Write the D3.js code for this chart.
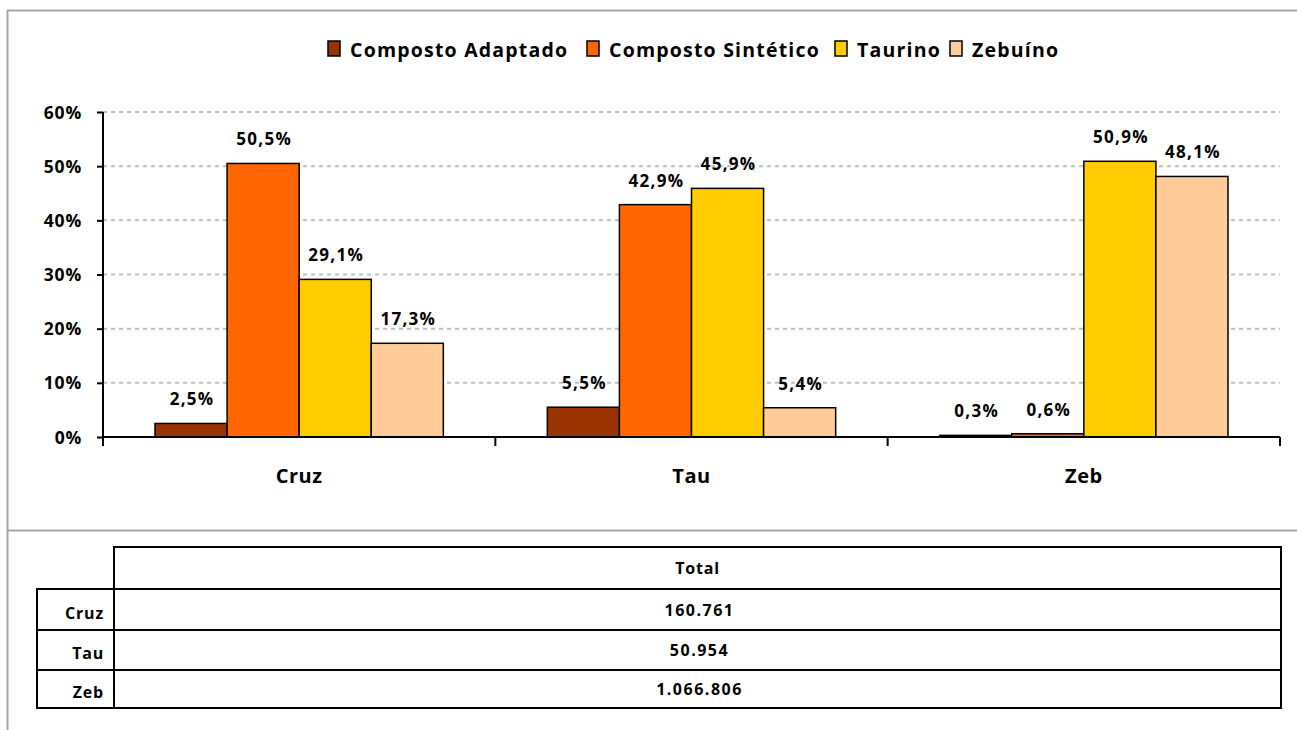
<!DOCTYPE html>
<html>
<head>
<meta charset="utf-8">
<script src="https://cdn.jsdelivr.net/npm/d3@7"></script>
<style>
  body { margin: 0; background: #fff; }
  text { font-family: "Open Sans", Lato, sans-serif; font-weight: bold; fill: #000; }
</style>
</head>
<body>
<div id="vis"></div>
<script>
var w = 1297,
    h = 730;

var categories = ["Cruz", "Tau", "Zeb"];
var series = ["Composto Adaptado", "Composto Sintético", "Taurino", "Zebuíno"];
var colors = ["#993300", "#FF6600", "#FFCC00", "#FFCC99"];
// percent values, one array per series (Cruz, Tau, Zeb)
var compostoAdaptado = [2.5, 5.5, 0.3];
var compostoSintetico = [50.5, 42.9, 0.6];
var taurino = [29.1, 45.9, 50.9];
var zebuino = [17.3, 5.4, 48.1];
var yTicks = [0, 10, 20, 30, 40, 50, 60];
var totals = ["160.761", "50.954", "1.066.806"];

var values = [compostoAdaptado, compostoSintetico, taurino, zebuino];

var svg = d3.select("#vis").append("svg")
    .attr("width", w)
    .attr("height", h);

// chart frame (grey)
svg.append("path")
    .attr("d", "M 7.5 730 L 7.5 10.5 L 1297 10.5 M 7.5 530.5 L 1297 530.5")
    .style("fill", "none")
    .style("stroke", "#a6a6a6")
    .style("stroke-width", 2);

var pLeft = 103, pRight = 1280, pTop = 112, pBottom = 437;

var x0 = d3.scaleBand().domain(categories).range([pLeft, pRight]);
var x1 = d3.scaleBand().domain(d3.range(series.length)).range([52, x0.bandwidth() - 52]);
var y = d3.scaleLinear().domain([0, 60]).range([pBottom, pTop]);

// gridlines
svg.append("g").selectAll("line.grid")
    .data(yTicks.slice(1))
    .enter().append("line")
    .attr("class", "grid")
    .attr("x1", pLeft).attr("x2", pRight)
    .attr("y1", function(d){ return y(d); })
    .attr("y2", function(d){ return y(d); })
    .style("stroke", "#bfbfbf")
    .style("stroke-width", 2)
    .style("stroke-dasharray", "4,4");

// bars
var groups = svg.append("g").selectAll("g.cat")
    .data(categories)
    .enter().append("g")
    .attr("transform", function(d){ return "translate(" + x0(d) + ",0)"; });

var cellData = function(d, ci){ return values.map(function(v, si){ return {s: si, v: v[ci]}; }); };

groups.selectAll("rect")
    .data(cellData)
    .enter().append("rect")
    .attr("x", function(d){ return x1(d.s); })
    .attr("width", x1.bandwidth())
    .attr("y", function(d){ return y(d.v); })
    .attr("height", function(d){ return pBottom - y(d.v); })
    .style("fill", function(d){ return colors[d.s]; })
    .style("stroke", "#000")
    .style("stroke-width", 1.5);

groups.selectAll("text.lbl")
    .data(cellData)
    .enter().append("text")
    .attr("class", "lbl")
    .attr("x", function(d){ return x1(d.s) + x1.bandwidth() / 2 + 1; })
    .attr("y", function(d){ return y(d.v) - 18; })
    .attr("text-anchor", "middle")
    .style("font-size", "17px")
    .style("letter-spacing", "1.3px")
    .text(function(d){ return d.v.toFixed(1).replace(".", ",") + "%"; });

// y axis
var yAxis = d3.axisLeft(y).tickValues(yTicks).tickSize(6).tickPadding(15)
    .tickFormat(function(d){ return d + "%"; });
var ya = svg.append("g").attr("transform", "translate(" + pLeft + ",0)").call(yAxis);
ya.select(".domain").remove();
ya.selectAll("line").style("stroke", "#000").style("stroke-width", 2);
ya.selectAll("text").style("font-size", "17.5px").style("letter-spacing", "0.8px").attr("dy", "0.35em");
svg.append("line")
    .attr("x1", pLeft).attr("x2", pLeft).attr("y1", pTop).attr("y2", pBottom + 9)
    .style("stroke", "#000").style("stroke-width", 2);

// x axis
svg.append("line")
    .attr("x1", pLeft).attr("x2", pRight).attr("y1", pBottom).attr("y2", pBottom)
    .style("stroke", "#000").style("stroke-width", 2);
svg.append("g").selectAll("line.xt")
    .data(categories.map(function(d){ return x0(d); }).concat([pRight]))
    .enter().append("line")
    .attr("x1", function(d){ return d; }).attr("x2", function(d){ return d; })
    .attr("y1", pBottom).attr("y2", pBottom + 9)
    .style("stroke", "#000").style("stroke-width", 2);
svg.append("g").selectAll("text.cat")
    .data(categories)
    .enter().append("text")
    .attr("x", function(d){ return x0(d) + x0.bandwidth() / 2; })
    .attr("y", 483)
    .attr("text-anchor", "middle")
    .style("font-size", "20px")
    .style("letter-spacing", "0.5px")
    .text(function(d){ return d; });

// legend
var legendX = [328, 587, 835, 950];
var leg = svg.append("g").selectAll("g.leg")
    .data(series)
    .enter().append("g")
    .attr("transform", function(d, i){ return "translate(" + legendX[i] + ",41)"; });
leg.append("rect")
    .attr("width", 12).attr("height", 15)
    .style("fill", function(d, i){ return colors[i]; })
    .style("stroke", "#000").style("stroke-width", 1.5);
leg.append("text")
    .attr("x", 22).attr("y", 15.5)
    .style("font-size", "19.5px")
    .style("letter-spacing", "1.2px")
    .text(function(d){ return d; });

// data table
var tLeft = 37, tCol = 114, tRight = 1281;
var rowsY = [547, 589, 630, 670, 708];
var tbl = svg.append("g");
var tStyle = function(s){ return s.style("stroke", "#000").style("stroke-width", 2).style("fill", "none"); };
tStyle(tbl.append("rect").attr("x", tCol).attr("y", rowsY[0]).attr("width", tRight - tCol).attr("height", rowsY[1] - rowsY[0]));
tStyle(tbl.append("rect").attr("x", tLeft).attr("y", rowsY[1]).attr("width", tRight - tLeft).attr("height", rowsY[4] - rowsY[1]));
tStyle(tbl.selectAll("line.row").data([rowsY[2], rowsY[3]]).enter().append("line")
    .attr("x1", tLeft).attr("x2", tRight).attr("y1", function(d){ return d; }).attr("y2", function(d){ return d; }));
tStyle(tbl.append("line").attr("x1", tCol).attr("x2", tCol).attr("y1", rowsY[1]).attr("y2", rowsY[4]));

tbl.append("text")
    .attr("x", (tCol + tRight) / 2).attr("y", (rowsY[0] + rowsY[1]) / 2 + 6)
    .attr("text-anchor", "middle")
    .style("font-size", "16px")
    .style("letter-spacing", "0.8px")
    .text("Total");

tbl.selectAll("text.rl")
    .data(categories)
    .enter().append("text")
    .attr("x", 104)
    .attr("y", function(d, i){ return (rowsY[i + 1] + rowsY[i + 2]) / 2 + 9; })
    .attr("text-anchor", "end")
    .style("font-size", "16px")
    .style("letter-spacing", "0.8px")
    .text(function(d){ return d; });

tbl.selectAll("text.tv")
    .data(totals)
    .enter().append("text")
    .attr("x", (tCol + tRight) / 2 + 2)
    .attr("y", function(d, i){ return (rowsY[i + 1] + rowsY[i + 2]) / 2 + 6; })
    .attr("text-anchor", "middle")
    .style("font-size", "16px")
    .style("letter-spacing", "1.5px")
    .text(function(d){ return d; });
</script>
</body>
</html>
